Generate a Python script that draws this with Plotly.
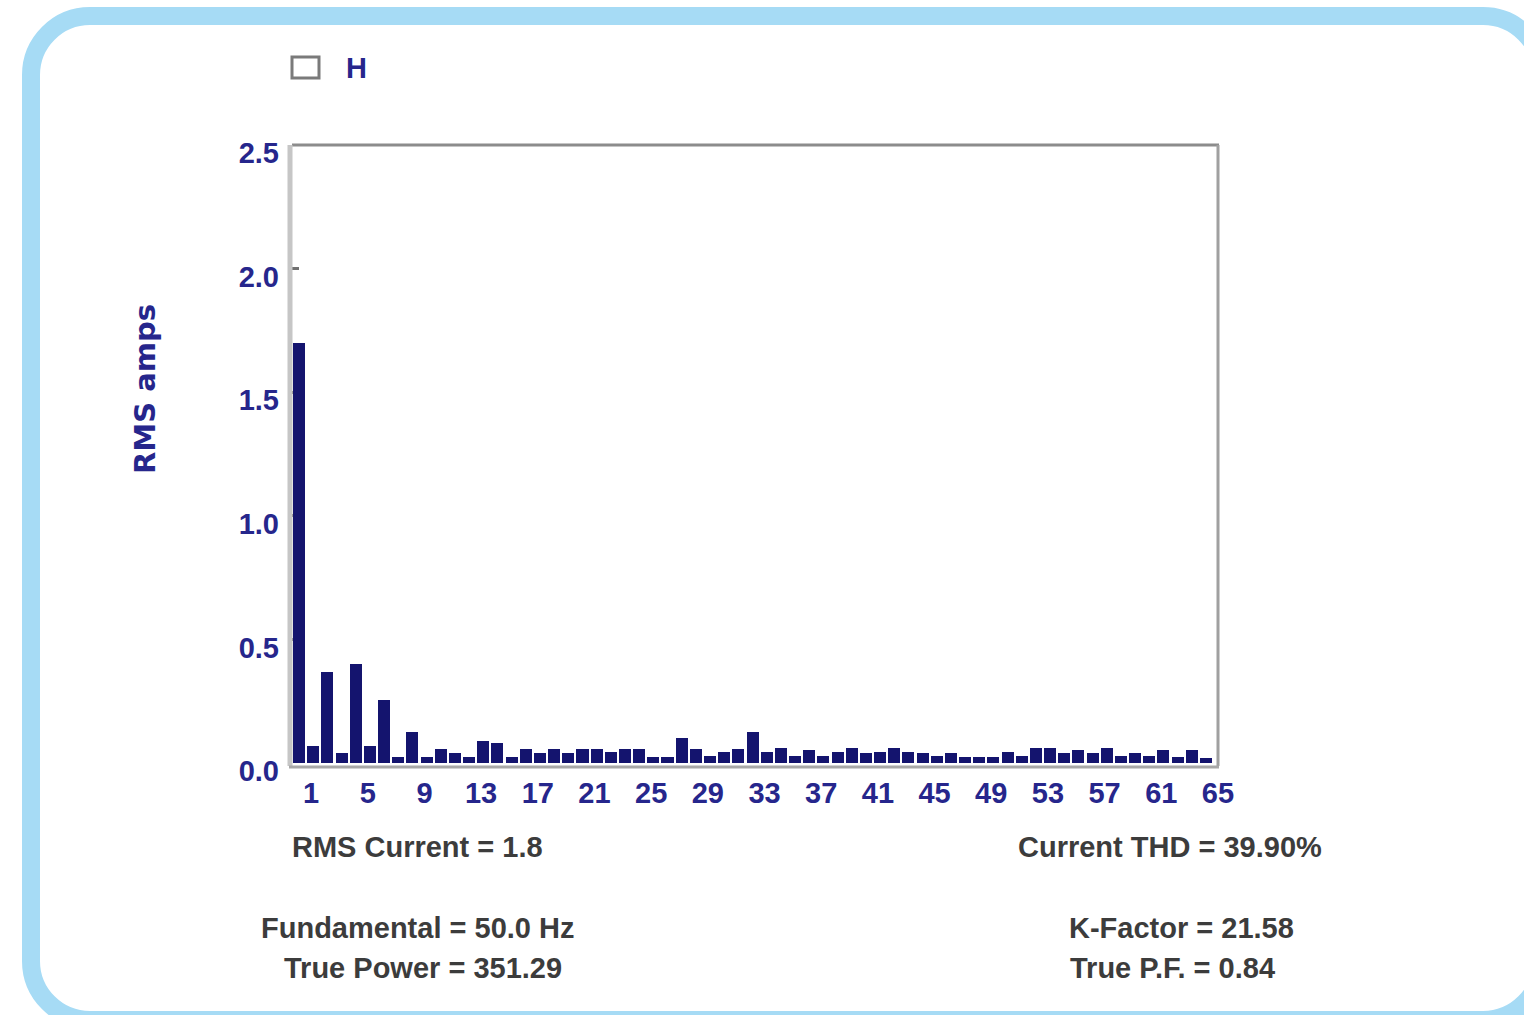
import plotly.graph_objects as go

# Harmonic spectrum of the measured current
harmonics = list(range(1, 66))
rms_amps = [
    1.70, 0.07, 0.37, 0.04, 0.40, 0.07, 0.255, 0.025, 0.125, 0.025,
    0.055, 0.04, 0.025, 0.09, 0.08, 0.025, 0.055, 0.04, 0.058, 0.04,
    0.058, 0.058, 0.045, 0.058, 0.058, 0.025, 0.025, 0.10, 0.057, 0.03,
    0.046, 0.057, 0.124, 0.046, 0.062, 0.03, 0.054, 0.03, 0.046, 0.062,
    0.039, 0.046, 0.062, 0.046, 0.04, 0.03, 0.04, 0.023, 0.023, 0.023,
    0.046, 0.03, 0.062, 0.062, 0.039, 0.054, 0.039, 0.062, 0.03, 0.039,
    0.03, 0.054, 0.023, 0.054, 0.02,
]
x_tick_labels = [1, 5, 9, 13, 17, 21, 25, 29, 33, 37, 41, 45, 49, 53, 57, 61, 65]
y_tick_values = [0.0, 0.5, 1.0, 1.5, 2.0, 2.5]

legend_label = "H"
y_title = "RMS amps"
stats_lines = [
    ("RMS Current = 1.8", 417, 847),
    ("Current THD = 39.90%", 1170, 847),
    ("Fundamental = 50.0 Hz", 417, 928),
    ("True Power = 351.29", 423, 968),
    ("K-Factor = 21.58", 1181, 928),
    ("True P.F. = 0.84", 1172, 968),
]

# Canvas geometry (pixels)
W, H = 1524, 1015
PL, PR, PT, PB = 292, 1218, 145, 763


def px(x):
    return (x - PL) / (PR - PL)


def py(y):
    return (PB - y) / (PB - PT)


NAVY = "#14146e"
TICK_BLUE = "#26268c"
TEXT_GREY = "#3c3c3c"
BORDER_BLUE = "#a6dbf5"
FONT = "Liberation Sans, Arial, sans-serif"
WIDE_FONT = "DejaVu Sans, Verdana, sans-serif"

fig = go.Figure()
fig.add_trace(go.Bar(
    x=harmonics, y=rms_amps, width=0.85,
    marker=dict(color=NAVY, line=dict(width=0)),
    showlegend=False, hoverinfo="x+y",
))


def rounded_rect_path(x0, y0, x1, y1, r):
    k = 0.5523 * r
    pts = [
        ("M", [(x0 + r, y0)]),
        ("L", [(x1 - r, y0)]),
        ("C", [(x1 - r + k, y0), (x1, y0 + r - k), (x1, y0 + r)]),
        ("L", [(x1, y1 - r)]),
        ("C", [(x1, y1 - r + k), (x1 - r + k, y1), (x1 - r, y1)]),
        ("L", [(x0 + r, y1)]),
        ("C", [(x0 + r - k, y1), (x0, y1 - r + k), (x0, y1 - r)]),
        ("L", [(x0, y0 + r)]),
        ("C", [(x0, y0 + r - k), (x0 + r - k, y0), (x0 + r, y0)]),
    ]
    out = []
    for cmd, coords in pts:
        out.append(cmd + " ".join(f"{px(a):.5f},{py(b):.5f}" for a, b in coords))
    return " ".join(out) + " Z"


shapes = [
    # rounded page border
    dict(type="path", xref="paper", yref="paper",
         path=rounded_rect_path(31, 16, 1542, 1020, 59),
         line=dict(color=BORDER_BLUE, width=18), fillcolor="rgba(0,0,0,0)"),
    # plot frame
    dict(type="line", xref="paper", yref="paper", x0=px(PL), x1=px(PR + 1),
         y0=py(PT), y1=py(PT), line=dict(color="#8c8c8c", width=3)),
    dict(type="line", xref="paper", yref="paper", x0=px(PR), x1=px(PR),
         y0=py(PT), y1=py(PB + 3), line=dict(color="#a0a0a0", width=3)),
    dict(type="line", xref="paper", yref="paper", x0=px(PL - 2), x1=px(PL - 2),
         y0=py(PT), y1=py(PB + 3), line=dict(color="#c6c6c6", width=5)),
    dict(type="line", xref="paper", yref="paper", x0=px(PL - 3), x1=px(PR + 1),
         y0=py(PB + 4), y1=py(PB + 4), line=dict(color="#a8a8a8", width=3)),
    # legend swatch
    dict(type="rect", xref="paper", yref="paper", x0=px(292), x1=px(319),
         y0=py(57), y1=py(78), line=dict(color="#7a7a7a", width=3),
         fillcolor="white"),
]

annotations = [
    dict(text=legend_label, x=px(356), y=py(68), xref="paper", yref="paper",
         showarrow=False, xanchor="center", yanchor="middle",
         font=dict(family=FONT, size=29, color=TICK_BLUE, weight="bold")),
    dict(text=y_title, x=px(145), y=py(389), xref="paper", yref="paper",
         showarrow=False, xanchor="center", yanchor="middle", textangle=-90,
         font=dict(family=WIDE_FONT, size=29, color=TICK_BLUE, weight="bold")),
]
for text, cx, cy in stats_lines:
    annotations.append(dict(
        text=text, x=px(cx), y=py(cy), xref="paper", yref="paper",
        showarrow=False, xanchor="center", yanchor="middle",
        font=dict(family=FONT, size=29, color=TEXT_GREY, weight="bold")))

fig.update_layout(
    width=W, height=H,
    margin=dict(l=PL, r=W - PR, t=PT, b=H - PB, pad=0),
    paper_bgcolor="white", plot_bgcolor="white",
    bargap=0, showlegend=False,
    shapes=shapes, annotations=annotations,
    xaxis=dict(
        range=[0.5, 65.85], showgrid=False, zeroline=False, showline=False,
        tickmode="array", tickvals=x_tick_labels,
        ticktext=[str(v) for v in x_tick_labels],
        ticks="", ticklabelshift=12, ticklabelstandoff=10,
        tickfont=dict(family=FONT, size=29, color=TICK_BLUE, weight="bold"),
        fixedrange=True,
    ),
    yaxis=dict(
        range=[0, 2.5], showgrid=False, zeroline=False, showline=False,
        tickmode="array", tickvals=y_tick_values,
        ticktext=[f"{v:.1f}" for v in y_tick_values],
        ticks="inside", ticklen=7, tickwidth=3, tickcolor="#707070",
        layer="below traces", ticklabelshift=8, ticklabelstandoff=12,
        tickfont=dict(family=FONT, size=29, color=TICK_BLUE, weight="bold"),
        fixedrange=True,
    ),
)

fig.write_html("out.html")
